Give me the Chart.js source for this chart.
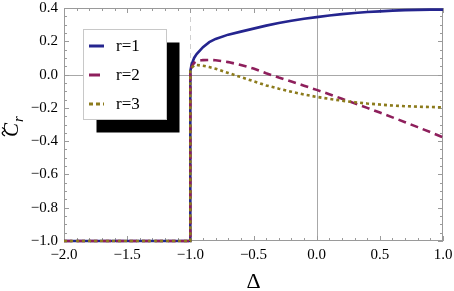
<!DOCTYPE html>
<html lang="en">
<head>
    <meta charset="UTF-8"/>
    <script src="https://cdn.jsdelivr.net/npm/chart.js@4.4.1/dist/chart.umd.min.js"></script>
    <title>C_r vs Delta</title>
    <style>
        body { margin: 0; background: #fff; }
        #wrap { width: 454px; height: 291px; }
    </style>
</head>
<body>
<div id="wrap"><canvas id="chart" width="454" height="291"></canvas></div>
<script>
    // x values (Delta), shared by the three curves; -1 appears twice for the jump
    const deltaValues = [-2, -1, -1, -0.99, -0.97, -0.95, -0.9, -0.85, -0.8, -0.7, -0.6, -0.5, -0.4, -0.3, -0.2, -0.1,
        0, 0.1, 0.2, 0.3, 0.4, 0.5, 0.6, 0.7, 0.8, 0.9, 1.0];
    const seriesLabels = ['r=1', 'r=2', 'r=3'];
    const r1Values = [-1, -1, 0.02, 0.06, 0.1, 0.123, 0.165, 0.195, 0.214, 0.24, 0.258, 0.276, 0.294, 0.31, 0.323, 0.335,
        0.345, 0.355, 0.363, 0.37, 0.376, 0.38, 0.384, 0.387, 0.389, 0.39, 0.39];
    const r2Values = [-1, -1, 0.02, 0.045, 0.07, 0.08, 0.087, 0.088, 0.086, 0.075, 0.058, 0.036, 0.008, -0.018, -0.042, -0.067,
        -0.092, -0.118, -0.145, -0.173, -0.2, -0.228, -0.257, -0.286, -0.316, -0.346, -0.377];
    const r3Values = [-1, -1, 0.02, 0.04, 0.055, 0.058, 0.053, 0.045, 0.035, 0.01, -0.015, -0.04, -0.065, -0.085, -0.103, -0.12,
        -0.134, -0.146, -0.157, -0.166, -0.174, -0.18, -0.186, -0.19, -0.193, -0.195, -0.197];
    const xTicks = [-2, -1.5, -1, -0.5, 0, 0.5, 1];
    const yTicks = [-1, -0.8, -0.6, -0.4, -0.2, 0, 0.2, 0.4];

    const colors = ['#25258f', '#8e1f5c', '#8c7b1c'];
    const dashes = [[], [8, 5], [3, 3]];
    const serif = '"Liberation Serif", "DejaVu Serif", serif';
    const frameColor = '#9a9a9a';

    function fmt(v) {
        const s = Math.abs(v).toFixed(1);
        return v < -1e-9 ? '\u2212' + s : s;
    }

    function toPoints(ys) {
        return ys.map((y, i) => ({x: deltaValues[i], y: y}));
    }

    // frame with inward ticks, zero axes and dashed line at Delta=-1
    const framePlugin = {
        id: 'frame',
        beforeDatasetsDraw(chart) {
            const {ctx, chartArea: a, scales: {x, y}} = chart;
            ctx.save();
            // zero axes
            ctx.strokeStyle = '#a8a8a8';
            ctx.lineWidth = 1;
            const x0 = Math.round(x.getPixelForValue(0)) + 0.5;
            const y0 = Math.round(y.getPixelForValue(0)) + 0.5;
            ctx.beginPath();
            ctx.moveTo(x0, a.top); ctx.lineTo(x0, a.bottom);
            ctx.moveTo(a.left, y0); ctx.lineTo(a.right, y0);
            ctx.stroke();
            // dashed line at -1
            const xm = Math.round(x.getPixelForValue(-1)) + 0.5;
            ctx.strokeStyle = '#cfcfcf';
            ctx.setLineDash([5, 4]);
            ctx.beginPath();
            ctx.moveTo(xm, a.top); ctx.lineTo(xm, a.bottom);
            ctx.stroke();
            ctx.setLineDash([]);
            // frame
            ctx.strokeStyle = frameColor;
            ctx.strokeRect(a.left + 0.5, a.top + 0.5, a.right - a.left - 1, a.bottom - a.top - 1);
            // ticks
            ctx.beginPath();
            for (let i = -20; i <= 10; i++) {
                const px = Math.round(x.getPixelForValue(i / 10)) + 0.5;
                const len = i % 5 === 0 ? 5 : 3;
                ctx.moveTo(px, a.bottom); ctx.lineTo(px, a.bottom - len);
                ctx.moveTo(px, a.top); ctx.lineTo(px, a.top + len);
            }
            for (let i = -20; i <= 8; i++) {
                const py = Math.round(y.getPixelForValue(i / 20)) + 0.5;
                const len = i % 4 === 0 ? 5 : 3;
                ctx.moveTo(a.left, py); ctx.lineTo(a.left + len, py);
                ctx.moveTo(a.right, py); ctx.lineTo(a.right - len, py);
            }
            ctx.stroke();
            ctx.restore();
        },
        afterDatasetsDraw(chart) {
            const {ctx} = chart;
            ctx.save();
            // legend with black drop shadow
            const bx = 83.5, by = 29.5, bw = 83, bh = 90;
            ctx.fillStyle = '#000';
            ctx.fillRect(bx + 13, by + 13, bw, bh);
            ctx.fillStyle = '#fff';
            ctx.fillRect(bx, by, bw, bh);
            ctx.strokeStyle = '#c8c8c8';
            ctx.lineWidth = 1;
            ctx.strokeRect(bx, by, bw, bh);
            ctx.font = '17px ' + serif;
            ctx.textBaseline = 'middle';
            chart.data.datasets.forEach((ds, i) => {
                const ly = 46 + i * 29;
                ctx.strokeStyle = ds.borderColor;
                ctx.lineWidth = 3;
                ctx.setLineDash(i === 2 ? [4, 3] : []);
                ctx.beginPath();
                ctx.moveTo(89, ly); ctx.lineTo(i === 1 ? 100 : 104, ly);
                ctx.stroke();
                ctx.setLineDash([]);
                ctx.fillStyle = '#000';
                ctx.fillText(ds.label, 116, ly + 1);
            });
            ctx.restore();
        },
        afterDraw(chart) {
            const {ctx} = chart;
            ctx.save();
            // y title: C with tilde, subscript r (rotated, reads bottom to top)
            ctx.translate(18, 126);
            ctx.rotate(-Math.PI / 2);
            ctx.fillStyle = '#000';
            ctx.textBaseline = 'alphabetic';
            ctx.font = 'italic 21px ' + serif;
            ctx.fillText('C', -11, 0);
            ctx.font = 'italic 15px ' + serif;
            ctx.fillText('r', 4, 5);
            // tilde
            ctx.strokeStyle = '#000';
            ctx.lineWidth = 1.3;
            ctx.beginPath();
            ctx.moveTo(-10, -13);
            ctx.bezierCurveTo(-8, -17, -6, -16, -5.5, -14.5);
            ctx.bezierCurveTo(-5, -13, -3, -12, -1.5, -16);
            ctx.stroke();
            ctx.restore();
        }
    };

    const ctx = document.getElementById('chart').getContext('2d');
    const chart = new Chart(ctx, {
        type: 'line',
        data: {
            datasets: [r1Values, r2Values, r3Values].map((vals, i) => ({
                label: seriesLabels[i],
                data: toPoints(vals),
                borderColor: colors[i],
                backgroundColor: colors[i],
                borderWidth: 2.6,
                borderDash: dashes[i],
                pointRadius: 0,
                tension: 0,
                clip: 4,
                order: 2 - i,
                fill: false
            }))
        },
        options: {
            responsive: false,
            animation: false,
            layout: {padding: {left: 0, right: 11, top: 8, bottom: 0}},
            plugins: {legend: {display: false}, tooltip: {enabled: false}},
            scales: {
                x: {
                    type: 'linear',
                    min: -2, max: 1,
                    afterBuildTicks: (s) => { s.ticks = xTicks.map(v => ({value: v})); },
                    afterFit: (s) => { s.height = 50; s.paddingLeft = 0; s.paddingRight = 0; },
                    grid: {display: false, drawTicks: false},
                    border: {display: false},
                    ticks: {
                        padding: 5,
                        color: '#000',
                        maxRotation: 0,
                        font: {family: serif, size: 15},
                        callback: (v) => fmt(v)
                    },
                    title: {
                        display: true, text: '\u0394', color: '#000',
                        font: {family: serif, size: 22, lineHeight: 1},
                        padding: {top: 0, bottom: -2}
                    }
                },
                y: {
                    type: 'linear',
                    min: -1, max: 0.4,
                    afterBuildTicks: (s) => { s.ticks = yTicks.map(v => ({value: v})); },
                    afterFit: (s) => { s.width = 64; s.paddingTop = 0; s.paddingBottom = 0; },
                    grid: {display: false, drawTicks: false},
                    border: {display: false},
                    ticks: {
                        padding: 6,
                        color: '#000',
                        font: {family: serif, size: 15},
                        callback: (v) => fmt(v)
                    }
                }
            }
        },
        plugins: [framePlugin]
    });
</script>
</body>
</html>
